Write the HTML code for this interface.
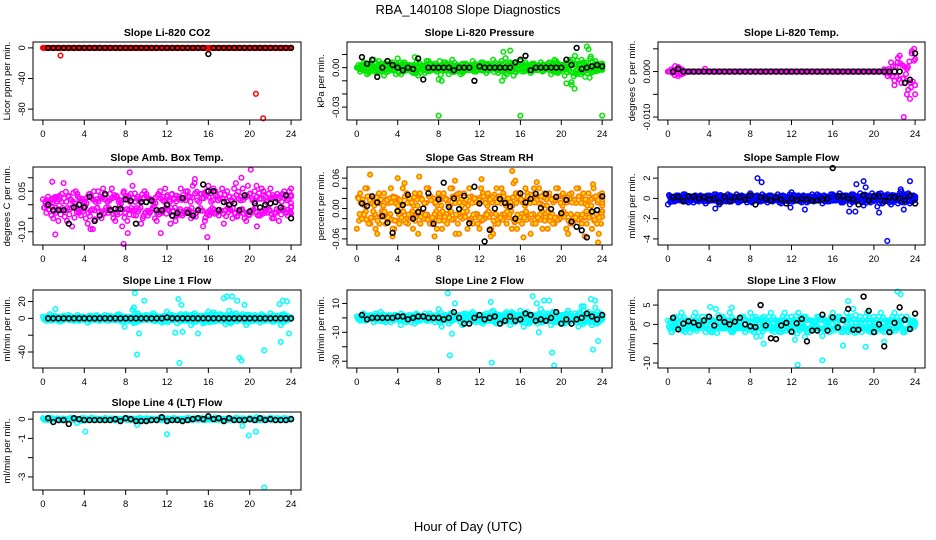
<!DOCTYPE html>
<html><head><meta charset="utf-8"><style>
body{margin:0;background:#fff}
svg{display:block;font-family:"Liberation Sans",Helvetica,sans-serif}
</style></head><body>
<svg id="chart" width="936" height="540" viewBox="0 0 936 540" xmlns="http://www.w3.org/2000/svg">
<rect width="936" height="540" fill="#fff"/>
<text x="468" y="14" font-size="13" text-anchor="middle">RBA_140108  Slope Diagnostics</text>
<text x="468" y="531" font-size="13" text-anchor="middle">Hour of Day (UTC)</text>
<g id="panels"></g>
</svg>
<script>
const xTicks = [0,4,8,12,16,20,24];
// CO2
const co2Col = [0,0,0,0,0,0,0,0,0,0,0,0,0,0,0,0,0,0,0,0,0,0,0,0,0,0,0,0,0,0,0,0,0,0,0,0,0,0,0,0,0,0,0,0,0,0,0,0,0,0,0,0,0,0,0,0,0,0,0,0,0,0,0,0,0,0,0,0,0,0,0,0,0];
const co2Out = [[1.7,-10],[20.6,-60],[21.3,-92]];
const co2Blk = [0,0,0,0,0,0,0,0,0,0,0,0,0,0,0,0,0,0,0,0,0,0,0,0,0,0,0,0,0,0,0,-8,0,0,0,0,0,0,0,0,0,0,0,0,0,0,0,0];
const co2Ticks = [0,-40,-80];
// Pressure
const prsColA = [0,-0.003,0.004,-0.005,0.002,0.006,-0.004,0.001,-0.006,0.005,0.003,-0.002,0.007,-0.005,0.004,0.002,-0.003,0.008,-0.006,0.001,-0.004,0.005,-0.002,0.003,-0.009,0.002,0.004,-0.005,0.006,-0.003,0.001,-0.004,0.003,-0.002,0.005,-0.003,0.002,0.004,-0.004,0.001,0.006,-0.002,0.003,0.012,-0.005,0.004,-0.006,0.002,0.005,-0.003,0.001,-0.004,0.003,-0.002,0.004,-0.001,0.003,-0.005,0.006,-0.004,0.002,-0.006,0.004,-0.011,0.009,-0.004,0.006,-0.007,0.014,-0.003,0.005,-0.002,0.003];
const prsColB = [0.002,-0.001,0.003,-0.004,0.001,-0.002,0.005,-0.003,0.002,-0.001,0.004,-0.005,0.001,0.003,-0.002,0.002,-0.004,0.001,0.003,-0.002,0.005,-0.001,0.002,-0.003,0.001,0.004,-0.002,0.003,-0.001,0.002,-0.005,0.003,-0.001,0.002,-0.003,0.001,0.004,-0.002,0.003,-0.001,0.002,-0.004,0.005,-0.002,0.001,0.003,-0.003,0.002,-0.001,0.004,-0.002,0.003,-0.001,0.002,-0.003,0.001,0.004,-0.002,0.005,-0.003,0.002,-0.001,0.006,-0.004,0.003,-0.005,0.004,-0.002,0.007,-0.003,0.002,-0.001,0.003];
const prsOut = [[8,-0.0365],[16,-0.0365],[24,-0.0365],[15,0.013],[22.5,0.016],[20.5,-0.012],[21,-0.013],[21.3,-0.016],[8.3,-0.01],[14.2,-0.01]];
const prsBlk = [0.008,0.003,0.006,-0.007,0,0.005,0.002,0,-0.002,0,-0.001,0.007,-0.009,0,0,0,0,0,-0.002,0,0,0,-0.01,0.001,0,0,0,0,0,0,0.004,0.006,0.009,-0.002,0,0,0,0,0,0,0.006,0.002,0.015,-0.001,0,0.001,0.002,0.001];
const prsTicks = [0.01,0,-0.01,-0.02,-0.03];
const prsLabels = ["","0.00","","","-0.03"];
// Li-820 temp
const tmpCol = [0,0.0005,-0.0008,0.001,-0.0006,0,0,0,0,0,0,0,0,0,0,0,0,0,0,0,0,0,0,0,0,0,0,0,0,0,0,0,0,0,0,0,0,0,0,0,0,0,0,0,0,0,0,0,0,0,0,0,0,0,0,0,0,0,0,0,0,0,0,0.0005,-0.001,0.002,-0.002,0.003,-0.0025,0.001,-0.004,0.004,-0.005];
const tmpOut = [[22,-0.003],[22.5,0.0035],[22.9,-0.01],[23.2,-0.005],[23.5,-0.006],[23.7,0.0045],[23.9,0.005],[23.3,0.001],[22.8,-0.0015],[23.6,-0.0035],[0.7,0.0012],[1,-0.001],[3.6,0.0006],[22.3,0.002],[21.8,-0.001]];
const tmpBlk = [0,0.0006,0,0,0,0,0,0,0,0,0,0,0,0,0,0,0,0,0,0,0,0,0,0,0,0,0,0,0,0,0,0,0,0,0,0,0,0,0,0,0,0,0,0,0,-0.0025,-0.0018,0.004];
const tmpTicks = [0.005,0,-0.005,-0.01];
const tmpLabels = ["","0.000","","-0.010"];
// Amb box temp
const ambColA = [0.02,-0.03,0.01,-0.05,0.03,-0.02,0.08,-0.06,0.02,-0.01,0.04,-0.04,0.01,-0.07,0.03,-0.02,0.05,-0.05,0.02,-0.03,0.06,-0.06,0.01,-0.08,0.03,-0.02,0.07,-0.04,0.02,-0.05,0.04,-0.03,0.01,-0.06,0.05,-0.02,0.03,-0.07,0.02,-0.04,0.06,-0.03,0.05,-0.05,0.08,-0.02,0.04,-0.06,0.07,-0.03,0.05,-0.04,0.06,-0.02,0.03,-0.05,0.08,-0.03,0.06,-0.06,0.04,-0.02,0.07,-0.04,0.05,-0.03,0.06,-0.05,0.04,-0.02,0.05,-0.04,0.06];
const ambColB = [-0.01,0.03,-0.04,0.02,-0.06,0.04,-0.02,0.03,-0.08,0.05,-0.03,0.02,-0.05,0.04,-0.09,0.02,-0.04,0.06,-0.02,0.04,-0.05,0.03,-0.03,0.05,-0.06,0.04,-0.02,0.03,-0.07,0.05,-0.04,0.02,-0.05,0.04,-0.03,0.06,-0.02,0.04,-0.06,0.03,-0.04,0.05,-0.02,0.07,-0.03,0.04,-0.08,0.05,-0.02,0.06,-0.03,0.04,-0.07,0.05,-0.02,0.06,-0.04,0.03,-0.05,0.07,-0.03,0.05,-0.04,0.06,-0.02,0.04,-0.05,0.03,-0.06,0.04,-0.03,0.05,-0.01];
const ambOut = [[0.9,0.085],[1.2,-0.11],[7.8,-0.145],[8.4,0.12],[8.2,-0.105],[15.9,-0.12],[20.1,0.13],[19.2,0.1],[11.4,-0.105],[14.7,0.095],[20.7,-0.08],[4.6,-0.09]];
const ambBlk = [0.0,-0.02,-0.02,-0.02,-0.07,-0.01,0.0,-0.01,0.03,-0.06,-0.04,0.04,-0.02,-0.015,-0.015,0.02,0.015,-0.07,0.01,0.01,0.015,-0.02,-0.02,0.0,-0.04,-0.03,0.025,-0.03,-0.04,-0.02,0.075,0.05,0.05,-0.02,0.01,0.0,0.005,-0.02,0.035,-0.025,0.005,-0.01,0.0,0.005,0.01,-0.01,0.035,-0.05];
const ambTicks = [0.1,0.05,0,-0.05,-0.1];
const ambLabels = ["","0.05","","","-0.10"];
// RH
const rhColA = [-0.04,0.03,-0.01,0.04,-0.03,0.02,-0.05,0.01,0.03,-0.02,0.04,-0.04,0.02,-0.01,0.05,-0.03,0.01,0.03,-0.05,0.02,-0.02,0.04,-0.03,0.01,0.03,-0.04,0.02,-0.01,0.04,-0.05,0.03,-0.02,0.01,0.04,-0.03,0.02,-0.04,0.03,-0.01,0.02,-0.05,0.04,-0.02,0.03,-0.03,0.01,0.05,-0.04,0.02,-0.01,0.03,-0.05,0.04,-0.02,0.01,0.03,-0.04,0.02,-0.03,0.04,-0.01,0.02,-0.05,0.03,-0.02,0.04,-0.03,0.01,0.03,-0.04,0.02,-0.05,0.01];
const rhColB = [0.02,-0.02,0.04,-0.03,0.01,-0.04,0.03,-0.01,-0.03,0.02,-0.04,0.01,-0.03,0.04,-0.02,0.02,-0.04,-0.01,0.03,-0.02,0.04,-0.03,0.02,-0.04,-0.01,0.03,-0.03,0.04,-0.02,0.02,-0.01,0.03,-0.04,-0.02,0.02,-0.03,0.04,-0.02,0.03,-0.04,0.02,-0.03,0.04,-0.01,0.02,-0.04,-0.02,0.03,-0.03,0.04,-0.02,0.02,-0.03,0.04,-0.04,-0.01,0.03,-0.03,0.04,-0.02,0.03,-0.04,0.02,-0.03,0.04,-0.02,0.03,-0.03,-0.01,0.04,-0.03,0.02,0.03];
const rhOut = [[1.3,0.067],[4.0,0.06],[6.1,0.063],[9.6,0.055],[12.2,0.058],[15.2,0.074],[15.5,0.055],[17.6,0.052],[23.1,0.048],[3.5,-0.055],[7.6,-0.055],[10.0,-0.05],[13.1,-0.055],[16.3,-0.057],[22.3,-0.055],[23.6,-0.067]];
const rhBlk = [0.01,0.005,0.024,0.012,-0.015,-0.028,-0.048,-0.005,0.007,0.027,-0.02,-0.007,0,0.03,-0.03,0.018,0.051,0.003,0.02,-0.001,0.025,-0.029,0.043,0.01,-0.065,-0.042,0,0.019,0.011,0.004,-0.02,0.03,0.012,0.019,0.029,0.001,0.029,-0.001,0.023,-0.009,0.017,-0.026,-0.036,-0.043,-0.057,-0.006,-0.003,0.024];
const rhTicks = [0.06,0.04,0.02,0,-0.02,-0.04,-0.06];
const rhLabels = ["0.06","","","0.00","","","-0.06"];
// Sample flow
const sfColA = [-0.6,0.2,-0.3,0.3,-0.2,0.4,-0.4,0.1,0.3,-0.3,0.2,-0.5,0.3,-0.2,0.4,-0.6,0.2,-0.3,0.3,-0.1,0.4,-0.3,0.2,-0.4,0.5,-0.2,0.3,-0.3,0.2,-0.4,0.3,-0.2,0.4,-0.5,0.2,-0.3,0.6,-0.2,0.3,-0.4,0.2,-0.3,0.4,-0.2,0.3,-0.5,0.2,-0.3,0.4,-0.2,0.5,-0.4,0.3,-0.6,0.4,-0.3,0.5,-0.7,0.3,-0.4,0.2,-0.8,0.5,-0.3,0.4,-0.6,0.3,-0.5,0.7,-0.4,0.5,-0.3,0.2];
const sfColB = [0.2,-0.3,0.3,-0.2,0.4,-0.3,0.1,-0.4,-0.2,0.3,-0.3,0.2,-0.2,0.4,-0.3,0.3,-0.2,0.4,-0.3,0.2,-0.4,0.3,-0.2,0.3,-0.4,0.2,-0.3,0.4,-0.2,0.3,-0.3,0.2,-0.4,0.3,-0.2,0.4,-0.3,0.2,-0.3,0.3,-0.4,0.2,-0.3,0.4,-0.2,0.3,-0.3,0.4,-0.2,0.3,-0.4,0.3,-0.2,0.4,-0.3,0.2,-0.4,0.3,-0.3,0.5,-0.2,0.4,-0.5,0.3,-0.4,0.3,-0.2,0.5,-0.3,0.4,-0.5,0.3,0.1];
const sfOut = [[8.7,2.0],[9.1,1.6],[18.3,1.4],[19.0,1.7],[19.2,1.1],[23.5,1.7],[22.6,0.9],[21.3,-4.2],[20.5,-1.4],[17.6,-1.3],[18.2,-1.3],[22.9,-1.1],[13.3,-1.1],[11.9,-0.9],[4.6,-1.0]];
const sfBlk = [0.1,0.1,-0.3,0.2,0.2,0.0,0.1,-0.1,0.0,-0.4,0.2,-0.3,0.1,0.1,-0.1,0.3,-0.6,0.1,0.0,-0.2,0.1,-0.1,-0.5,0.0,-0.2,0.0,-0.1,-0.2,-0.2,-0.1,0.0,3.0,0.2,0.2,0.0,-0.1,-0.6,0.3,-0.2,0.2,0.2,-0.3,0.1,0.1,0.0,-0.2,0.3,-0.5];
const sfTicks = [2,0,-2,-4];
// Line 1
const l1ColA = [2,-3,5,-2,1,-4,3,-1,2,-3,4,-2,1,-5,3,-2,2,-1,4,-3,1,-2,5,-4,2,-3,10,-5,3,-2,4,-1,6,-3,2,-4,8,-2,3,-6,5,-3,4,-8,6,-2,3,-5,8,-4,5,-2,4,-7,9,-3,6,-2,5,-8,4,-3,2,-5,3,-2,6,-4,3,-8,5,-2,1];
const l1ColB = [-1,2,-2,3,-3,2,-1,4,-2,1,-3,2,-2,3,-1,4,-3,2,-1,3,-2,4,-1,2,-3,1,-4,6,-2,3,-1,4,-3,2,-5,3,-2,4,-1,3,-2,5,-3,2,-4,3,-6,4,-3,7,-2,5,-3,2,-6,4,-2,3,-4,2,-3,4,-2,5,-3,2,-4,3,-2,4,-3,2,0];
const l1Out = [[8.9,30],[9.8,21],[13.1,23],[13.4,16],[17.5,24],[17.8,26],[18.3,26],[18.8,21],[19.5,16],[22.9,17],[23.2,21],[23.6,20],[9.1,-43],[9.3,-18],[12.8,-17],[13.2,-53],[13.5,-16],[15,-18],[19,-47],[19.2,-50],[21.4,-38],[23,-28],[23.8,-18],[8.8,13],[1.2,11],[7.9,-10]];
const l1Blk = [0,0,0,0,0,0,0,0,0,0,0,0,0,0,0,0,0,0,0,0,0,0,0,1,0,0,0,0,0,0,0,0,0,0,0,0,0,0,0,0,0,0,0,0,0,0,0,0];
const l1Ticks = [20,0,-20,-40];
const l1Labels = ["20","0","","-40"];
// Line 2
const l2ColA = [1,-2,3,-1,2,-3,1,4,-2,1,-3,2,-1,3,-2,1,-3,-4,2,-1,3,-2,1,-3,6,-2,2,-4,3,-1,2,-5,3,-2,4,-3,2,-4,3,-2,5,-4,2,-3,4,-5,3,-2,5,-6,4,-3,2,-4,6,-2,3,-5,4,-3,2,-4,5,-2,3,-6,8,-3,4,-5,7,-3,2];
const l2ColB = [-1,2,-2,1,-1,3,-2,1,-3,2,-1,2,-2,1,-3,2,-1,3,-2,1,-2,3,-1,2,-3,1,-2,3,-1,2,-3,2,-1,3,-2,2,-3,1,-2,4,-3,2,-1,3,-2,4,-3,2,-2,3,-4,2,-1,3,-3,2,-2,4,-3,2,-4,3,-2,1,-3,4,-2,3,-3,2,-4,3,1];
const l2Out = [[8.9,17],[9.6,10],[13.1,11],[17.2,15],[17.6,10],[18.3,12],[18.8,12],[22.9,13],[23.3,12],[22.2,8],[9.1,-26],[9.3,-11],[13.2,-31],[17.8,-10],[19.1,-24],[19.3,-33],[23.1,-22],[23.6,-16],[4.3,-5],[8.3,-6]];
const l2Blk = [2,-1,0,0,0,0,0,1,1,-1,0,1,1,0,0,0,-1,0,4,0,-4,-4,0,2,-1,0,1,-4,-2,1,-2,-1,3,2,-2,-1,-2,0,4,-4,-1,-4,-1,0,3,1,-1,2];
const l2Ticks = [10,0,-10,-20,-30];
const l2Labels = ["10","","-10","","-30"];
// Line 3
const l3ColA = [1,-2,2,-1,3,-2,1,-1,3,-1,2,-2,1,-2,4,-1,2,-1,3,-2,1,-1,2,-1,3,-2,1,-3,2,-1,3,-2,1,-2,3,-1,2,-4,3,-1,2,-2,1,-1,2,-3,1,-2,3,-1,2,-2,3,-1,4,-2,2,-1,3,-2,2,-1,3,-2,1,-2,3,-1,2,-2,1,-1,0];
const l3ColB = [-1,1,-1,2,-1,1,-2,2,-1,1,-1,2,-2,1,-1,2,-1,1,-2,1,-1,2,-2,1,-1,2,-2,1,-1,2,-1,1,-2,2,-1,1,-2,1,-1,2,-2,1,-1,2,-2,1,-1,2,-1,2,-2,1,-2,2,-1,1,-2,2,-1,1,-2,2,-1,1,-2,2,-1,1,-2,2,-1,1,0];
const l3Out = [[4.1,4.5],[6.2,4.3],[12.6,-10.5],[15,-9.3],[9.3,-5],[17,-5.5],[19.2,-5.8],[22.3,8.5],[22.6,7.8],[17.5,6],[8.6,-3.2],[21,-4.5],[13.3,-3.2],[0.4,-2]];
const l3Blk = [1.7,-1.3,0.2,0.8,0.5,-0.2,1.0,2.0,-0.3,1.7,0.6,0.0,0.7,1.7,0.0,-0.5,-0.7,5.0,-0.3,-3.6,-3.8,-0.3,0.4,-1.9,0.3,1.4,-4.4,-1.6,-1.6,2.5,-1.6,1.8,-0.8,1.1,4.0,-1.4,-1.4,7.2,3.5,-2.0,0.0,-5.7,-2.0,0.4,4.4,1.2,-1.2,2.8];
const l3Ticks = [5,0,-5,-10];
const l3Labels = ["5","0","","-10"];
// Line 4
const l4ColA = [0.05,-0.05,0.08,-0.02,0.04,-0.06,0.03,-0.03,0.06,-0.04,0.02,-0.1,0.05,-0.03,0.07,-0.05,0.03,-0.02,0.06,-0.04,0.04,-0.06,0.02,-0.03,0.07,-0.05,0.03,-0.04,0.06,-0.02,0.05,-0.06,0.03,-0.04,0.08,-0.03,0.04,-0.05,0.06,-0.02,0.03,-0.05,0.07,-0.04,0.05,-0.03,0.06,-0.05,0.04,-0.02,0.08,-0.04,0.03,-0.06,0.05,-0.03,0.07,-0.05,0.04,-0.02,0.06,-0.04,0.1,-0.05,0.04,-0.03,0.07,-0.05,0.05,-0.02,0.06,-0.04,0.03];
const l4Out = [[4.1,-0.65],[12,-0.78],[19.3,-0.35],[19.9,-0.85],[20.6,-0.65],[21.4,-3.55],[9.1,-0.3],[3.3,-0.2]];
const l4Blk = [0.05,-0.15,-0.05,-0.05,-0.25,0.05,0,-0.05,-0.05,-0.05,-0.05,-0.05,-0.05,0,-0.1,0.05,0,-0.1,-0.1,-0.1,-0.05,-0.05,0.1,-0.1,-0.05,-0.05,-0.1,-0.05,0,0.05,0,0.15,0,0.05,-0.1,0.05,-0.05,-0.05,-0.05,0,-0.05,0.05,-0.05,0,-0.05,-0.05,-0.05,0];
const l4Ticks = [0,-1,-2,-3];
const l4Labels = ["0","-1","","-3"];

const panels = [
 {name:'co2',title:'Slope Li-820 CO2',ylab:'Licor ppm per min.',col:0,row:0,top:7.7,bot:-94.2,color:'#ff0000',cols:[co2Col],out:co2Out,blk:co2Blk,ticks:co2Ticks,labels:co2Ticks.map(String)},
 {name:'pressure',title:'Slope Li-820 Pressure',ylab:'kPa per min.',col:1,row:0,top:0.0195,bot:-0.0398,color:'#00e600',cols:[prsColA,prsColB],out:prsOut,blk:prsBlk,ticks:prsTicks,labels:prsLabels},
 {name:'li820-temp',title:'Slope Li-820 Temp.',ylab:'degrees C per min.',col:2,row:0,top:0.0065,bot:-0.01065,color:'#ff00ff',cols:[tmpCol],out:tmpOut,blk:tmpBlk,ticks:tmpTicks,labels:tmpLabels},
 {name:'amb-box-temp',title:'Slope Amb. Box Temp.',ylab:'degrees C per min.',col:0,row:1,top:0.1398,bot:-0.149,color:'#ff00ff',cols:[ambColA,ambColB],out:ambOut,blk:ambBlk,ticks:ambTicks,labels:ambLabels},
 {name:'gas-stream-rh',title:'Slope Gas Stream RH',ylab:'percent per min.',col:1,row:1,top:0.082,bot:-0.072,color:'#ff7a00',fill:'#ffe000',cols:[rhColA,rhColB],out:rhOut,blk:rhBlk,ticks:rhTicks,labels:rhLabels},
 {name:'sample-flow',title:'Slope Sample Flow',ylab:'ml/min per min.',col:2,row:1,top:3.1,bot:-4.6,color:'#0000ff',cols:[sfColA,sfColB],out:sfOut,blk:sfBlk,ticks:sfTicks,labels:sfTicks.map(String)},
 {name:'line1-flow',title:'Slope Line 1 Flow',ylab:'ml/min per min.',col:0,row:2,top:33.7,bot:-59,color:'#00ffff',cols:[l1ColA,l1ColB],out:l1Out,blk:l1Blk,ticks:l1Ticks,labels:l1Labels},
 {name:'line2-flow',title:'Slope Line 2 Flow',ylab:'ml/min per min.',col:1,row:2,top:19.3,bot:-34.7,color:'#00ffff',cols:[l2ColA,l2ColB],out:l2Out,blk:l2Blk,ticks:l2Ticks,labels:l2Labels},
 {name:'line3-flow',title:'Slope Line 3 Flow',ylab:'ml/min per min.',col:2,row:2,top:8.9,bot:-11.3,color:'#00ffff',cols:[l3ColA,l3ColB],out:l3Out,blk:l3Blk,ticks:l3Ticks,labels:l3Labels},
 {name:'line4-flow',title:'Slope Line 4 (LT) Flow',ylab:'ml/min per min.',col:0,row:3,top:0.37,bot:-3.68,color:'#00ffff',cols:[l4ColA],out:l4Out,blk:l4Blk,ticks:l4Ticks,labels:l4Labels}
];
const colLeft=[33,347,658], colW=[268,265,267];
const rowTop=[42,167,290,412], rowH=78;
const NS='http://www.w3.org/2000/svg';
const root=document.getElementById('panels');
function mk(tag,attrs,parent){const e=document.createElementNS(NS,tag);for(const k in attrs)e.setAttribute(k,attrs[k]);parent.appendChild(e);return e;}
panels.forEach(p=>{
  const L=colLeft[p.col],W=colW[p.col],T=rowTop[p.row],H=rowH;
  const g=mk('g',{},root);
  
  
  const xs=h=>L+(h+0.96)/25.92*W;
  const ys=v=>T+(p.top-v)/(p.top-p.bot)*H;
  const t=mk('text',{x:L+W/2,y:T-6,'font-size':10.5,'font-weight':'bold','text-anchor':'middle'},g);
  t.textContent=p.title;
  
  
  const yl=mk('text',{x:0,y:0,'font-size':9.5,'text-anchor':'middle',transform:`translate(${L-23},${T+H/2}) rotate(-90)`},g);
  yl.textContent=p.ylab;
  
  
  const pg=mk('g',{fill:p.fill||'none',stroke:p.color,'stroke-width':1.5},g);
  
  
  const passes=[[0,1],[0.11,-0.55],[0.22,0.6]];
  p.cols.forEach((arr,ci)=>{passes.forEach(ps=>{arr.forEach((v,i)=>{
    const h=Math.min(24,i*24/(arr.length-1)+(ci?0.16:0)+ps[0]);
    const c=mk('circle',{cx:xs(h),cy:ys(v*ps[1]),r:2.3},pg);
    
    
  });});});
  p.out.forEach(o=>{
    const c=mk('circle',{cx:xs(o[0]),cy:ys(o[1]),r:2.3},pg);
    
    
  });
  const bg=mk('g',{fill:'none',stroke:'#000','stroke-width':1.6},g);
  
  
  p.blk.forEach((v,i)=>{
    const c=mk('circle',{cx:xs(0.5*(i+1)),cy:ys(v),r:2.4},bg);
    
    
  });
  const box=mk('rect',{x:L,y:T,width:W,height:H,fill:'none',stroke:'#000','stroke-width':1},g);
  
  
  const xa=mk('g',{stroke:'#000','stroke-width':1},g);
  
  
  mk('line',{x1:xs(0),x2:xs(24),y1:T+H,y2:T+H},xa);
  xTicks.forEach(h=>{
    mk('line',{x1:xs(h),x2:xs(h),y1:T+H,y2:T+H+5},xa);
    const tl=mk('text',{x:xs(h),y:T+H+17,'font-size':9.5,'text-anchor':'middle',stroke:'none'},g);
    tl.textContent=h;
    
    
  });
  const ya=mk('g',{stroke:'#000','stroke-width':1},g);
  
  
  mk('line',{x1:L,x2:L,y1:ys(p.ticks[0]),y2:ys(p.ticks[p.ticks.length-1])},ya);
  p.ticks.forEach((v,i)=>{
    mk('line',{x1:L-5,x2:L,y1:ys(v),y2:ys(v)},ya);
    if(p.labels[i]){
      const tl=mk('text',{x:0,y:0,'font-size':9.5,'text-anchor':'middle',transform:`translate(${L-8},${ys(v)}) rotate(-90)`},g);
      tl.textContent=p.labels[i];
      
      
    }
  });
});
</script>
</body></html>
